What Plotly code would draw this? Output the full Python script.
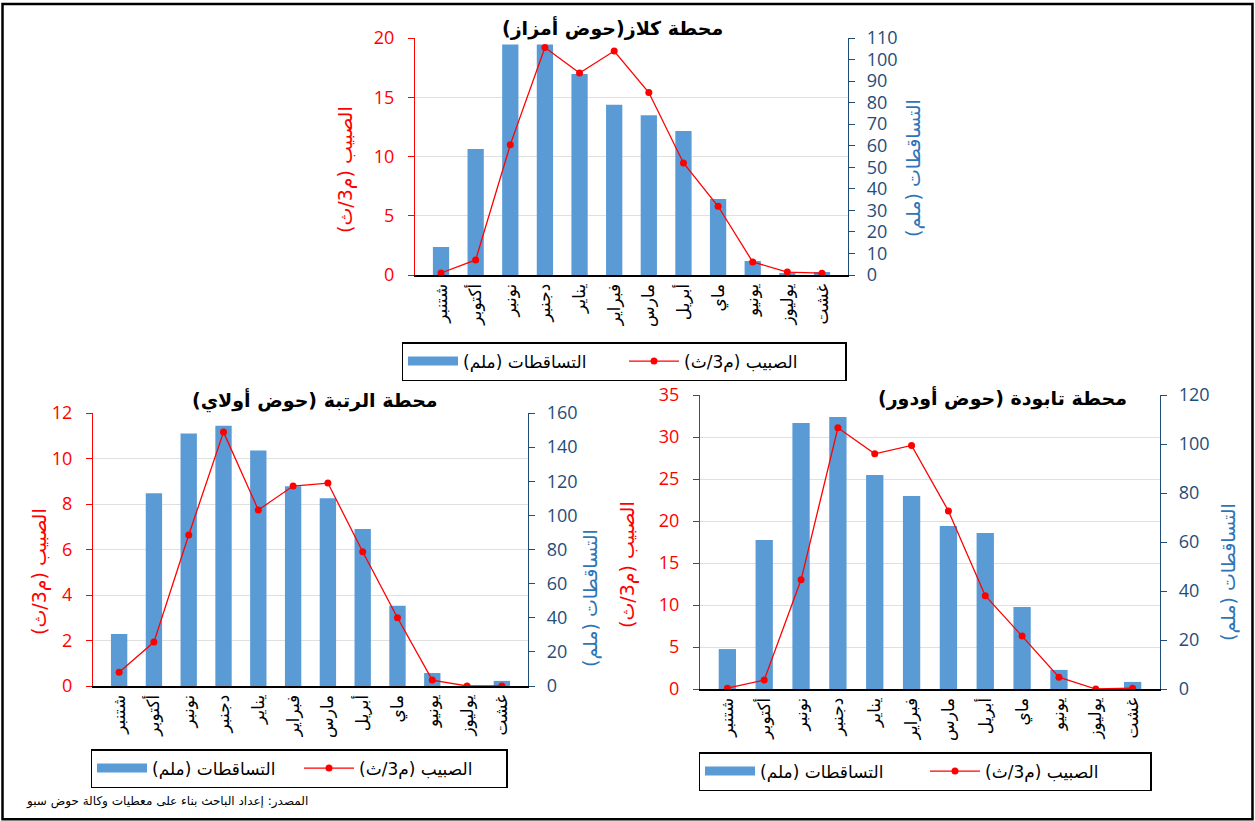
import plotly.graph_objects as go

# Moroccan month names, hydrological year order
months = ["شتنبر", "أكتوبر", "نونبر", "دجنبر", "يناير", "فبراير",
          "مارس", "أبريل", "ماي", "يونيو", "يوليوز", "غشت"]

# Station Kelaz (Amzaz basin)
kelaz_rain = [13, 58.5, 107, 107, 93.3, 79, 74.2, 66.8, 35.3, 6.5, 0.5, 1.4]
kelaz_flow = [0.17, 1.27, 11.0, 19.2, 17.05, 18.9, 15.4, 9.45, 5.8, 1.1, 0.25, 0.15]

# Station Ratba (Oulay basin)
ratba_rain = [30.5, 113, 148, 152.5, 138, 117, 110, 92, 47, 7.6, 0, 3]
ratba_flow = [0.6, 1.93, 6.64, 11.16, 7.74, 8.79, 8.92, 5.9, 3.0, 0.26, 0, 0]

# Station Tabouda (Ouder basin)
tabouda_rain = [16.3, 60.8, 108.6, 111, 87.3, 78.8, 66.5, 63.7, 33.5, 7.8, 0, 2.9]
tabouda_flow = [0.1, 1.07, 13.0, 31.1, 28.0, 29.0, 21.2, 11.1, 6.3, 1.4, 0, 0.1]

rain_name = "التساقطات (ملم)"
flow_name = "الصبيب (م3/ث)"
titles = ["محطة كلاز(حوض أمزاز)", "محطة الرتبة (حوض أولاي)", "محطة تابودة (حوض أودور)"]
source_text = "المصدر: إعداد الباحث بناء على معطيات وكالة حوض سبو"

BAR = "#5B9BD5"
RED = "#FF0000"
DARKBLUE = "#1F4E79"
TITLEBLUE = "#2E75B6"
NUMFONT = "Open Sans, DejaVu Sans, sans-serif"
ARFONT = "DejaVu Sans, sans-serif"

W, H = 1255, 821

def px(x):
    return x / W

def py(y):
    return 1 - y / H

panels = [
    # rain, flow, plot box (left, right, top, bottom), flow max/step, rain max/step,
    # legend id, legend entry width, left title (x, y), right title (x, y)
    (kelaz_rain, kelaz_flow, 415, 848, 38, 275, 20, 5, 110, 10, "legend", 156, (345, 170), (914, 168)),
    (ratba_rain, ratba_flow, 93, 528, 413, 686, 12, 2, 160, 20, "legend2", 142, (39, 572), (590, 598)),
    (tabouda_rain, tabouda_flow, 700, 1160, 395, 689, 35, 5, 120, 20, "legend3", 160, (627, 565), (1228, 572)),
]

fig = go.Figure()
layout = {}
annotations = []

for i, (rain, flow, x0, x1, yt, yb, fmax, fdt, rmax, rdt, leg, ew, lt, rt) in enumerate(panels):
    k = i + 1
    xa = "x" if k == 1 else f"x{k}"
    ya_rain_n = 2 * k - 1
    ya_flow_n = 2 * k
    ya_rain = "y" if ya_rain_n == 1 else f"y{ya_rain_n}"
    ya_flow = f"y{ya_flow_n}"

    # precipitation bars (right axis)
    fig.add_trace(go.Bar(
        x=months, y=rain, name=rain_name, xaxis=xa, yaxis=ya_rain,
        marker=dict(color=BAR, line=dict(width=0)), width=0.47,
        showlegend=False,
    ))
    # legend swatch for the bars: a wide flat block
    fig.add_trace(go.Scatter(
        x=[None], y=[None], name=rain_name, xaxis=xa, yaxis=ya_rain,
        mode="lines", line=dict(color=BAR, width=9), legend=leg, showlegend=True,
    ))
    # discharge line (left axis)
    fig.add_trace(go.Scatter(
        x=months, y=flow, name=flow_name, xaxis=xa, yaxis=ya_flow,
        mode="lines+markers", line=dict(color=RED, width=1.3),
        marker=dict(color=RED, size=7), legend=leg, showlegend=True,
    ))

    xkey = "xaxis" if k == 1 else f"xaxis{k}"
    layout[xkey] = dict(
        domain=[px(x0), px(x1)], anchor=ya_rain, type="category",
        showline=True, linecolor="black", linewidth=2, ticks="",
        tickangle=-90, tickfont=dict(family=ARFONT, size=17, color="black"),
        showgrid=False, fixedrange=True, automargin=False,
    )
    rkey = "yaxis" if ya_rain_n == 1 else f"yaxis{ya_rain_n}"
    layout[rkey] = dict(
        domain=[py(yb), py(yt)], anchor=xa, side="right",
        range=[0, rmax], dtick=rdt, tick0=0,
        showline=True, linecolor=DARKBLUE, linewidth=1.2,
        ticks="outside", ticklen=6, tickcolor=DARKBLUE, ticklabelstandoff=8,
        tickfont=dict(family=NUMFONT, size=18, color=DARKBLUE),
        showgrid=False, zeroline=False, automargin=False,
    )
    layout[f"yaxis{ya_flow_n}"] = dict(
        anchor=xa, overlaying=ya_rain, side="left",
        range=[0, fmax], dtick=fdt, tick0=0,
        showline=True, linecolor=RED, linewidth=1.2,
        ticks="outside", ticklen=6, tickcolor=RED, ticklabelstandoff=10,
        tickfont=dict(family=NUMFONT, size=18, color=RED),
        showgrid=True, gridcolor="#E0E0E0", gridwidth=1, zeroline=False, automargin=False,
    )

    # vertical axis titles
    annotations.append(dict(
        text=flow_name, x=px(lt[0]), y=py(lt[1]), xref="paper", yref="paper",
        xanchor="center", yanchor="middle", textangle=-90, showarrow=False,
        font=dict(family=ARFONT, size=19, color=RED)))
    annotations.append(dict(
        text=rain_name, x=px(rt[0]), y=py(rt[1]), xref="paper", yref="paper",
        xanchor="center", yanchor="middle", textangle=-90, showarrow=False,
        font=dict(family=ARFONT, size=19, color=TITLEBLUE)))

    layout[leg] = dict(
        orientation="h", bordercolor="black", borderwidth=1.5, bgcolor="white",
        font=dict(family=ARFONT, size=17, color="black"),
        xanchor="center", yanchor="top", itemwidth=50, entrywidth=ew,
        traceorder="normal",
    )

layout["legend"].update(x=px(624), y=py(342))
layout["legend2"].update(x=px(299), y=py(749))
layout["legend3"].update(x=px(925), y=py(752))

# chart titles
for txt, (tx, ty) in zip(titles, [(612, 28), (315, 400), (1002, 398)]):
    annotations.append(dict(
        text=f"<b>{txt}</b>", x=px(tx), y=py(ty), xref="paper", yref="paper",
        xanchor="center", yanchor="middle", showarrow=False,
        font=dict(family=ARFONT, size=19, color="black")))

# source line
annotations.append(dict(
    text=source_text, x=px(24), y=py(801), xref="paper", yref="paper",
    xanchor="left", yanchor="middle", showarrow=False,
    font=dict(family=ARFONT, size=12, color="black")))

shapes = [
    dict(type="rect", xref="paper", yref="paper", x0=0.002, x1=0.998, y0=0.002, y1=0.995,
         line=dict(color="black", width=2.5), fillcolor="rgba(0,0,0,0)", layer="above"),
]

fig.update_layout(
    width=W, height=H, margin=dict(l=0, r=0, t=0, b=0, autoexpand=False),
    paper_bgcolor="white", plot_bgcolor="white",
    bargap=0.5, showlegend=True,
    annotations=annotations, shapes=shapes, **layout,
)

fig.write_html("out.html")
